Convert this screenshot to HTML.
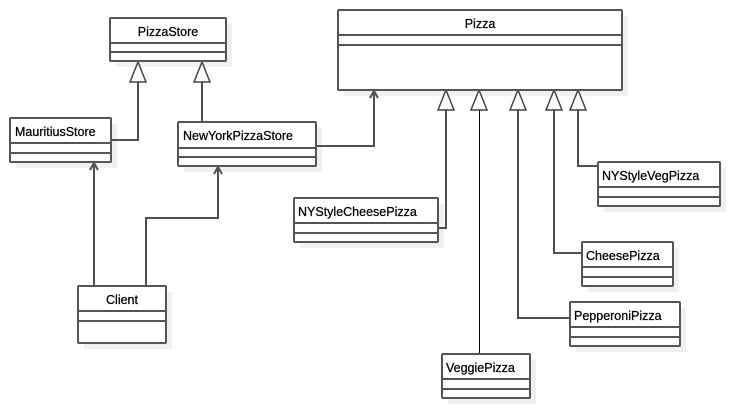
<!DOCTYPE html>
<html><head><meta charset="utf-8"><style>
html,body{margin:0;padding:0;background:#fff;}
svg{display:block;}
text{font-family:"Liberation Sans",sans-serif;font-size:12.5px;fill:#000;stroke:#000;stroke-width:0.25;}
</style></head><body>
<svg width="730" height="408" viewBox="0 0 730 408" xmlns="http://www.w3.org/2000/svg">
<g fill="#f0f0f0">
<rect x="116" y="24" width="116" height="43"/>
<rect x="16" y="124" width="101" height="44"/>
<rect x="184" y="128" width="138" height="44"/>
<rect x="344" y="16" width="284" height="80"/>
<rect x="300" y="204" width="144" height="44"/>
<rect x="604" y="168" width="122" height="44"/>
<rect x="588" y="248" width="91" height="44"/>
<rect x="576" y="308" width="110" height="44"/>
<rect x="448" y="360" width="88" height="44"/>
<rect x="84" y="292" width="88" height="57"/>
</g>
<g fill="none" stroke="#505050" stroke-width="2">
<polyline points="111,140 138,140 138,82"/>
<line x1="202" y1="122" x2="202" y2="82"/>
<polyline points="316,146 374,146 374,91"/>
<polyline points="370,98 374,91 378,98"/>
<line x1="94" y1="286" x2="94" y2="163"/>
<polyline points="90,170 94,163 98,170"/>
<polyline points="146,286 146,218 218,218 218,167"/>
<polyline points="214,174 218,167 222,174"/>
<polyline points="438,228 446,228 446,110"/>
<polyline points="598,166 578,166 578,110"/>
<polyline points="582,253 554,253 554,110"/>
<polyline points="570,318 518,318 518,110"/>
</g>
<line x1="479.5" y1="110" x2="479.5" y2="354" stroke="#000" stroke-width="1" shape-rendering="crispEdges"/>
<g fill="#fff" stroke="#444" stroke-width="1.5">
<polygon points="138,62 130,82 146,82"/>
<polygon points="202,62 194,82 210,82"/>
<polygon points="446,90 438,110 454,110"/>
<polygon points="479,90 471,110 487,110"/>
<polygon points="518,90 510,110 526,110"/>
<polygon points="554,90 546,110 562,110"/>
<polygon points="578,90 570,110 586,110"/>
</g>
<g fill="#fff" stroke="#555" stroke-width="2">
<rect x="110" y="18" width="116" height="43" rx="1"/>
<rect x="10" y="118" width="101" height="44" rx="1"/>
<rect x="178" y="122" width="138" height="44" rx="1"/>
<rect x="338" y="10" width="284" height="80" rx="1"/>
<rect x="294" y="198" width="144" height="44" rx="1"/>
<rect x="598" y="162" width="122" height="44" rx="1"/>
<rect x="582" y="242" width="91" height="44" rx="1"/>
<rect x="570" y="302" width="110" height="44" rx="1"/>
<rect x="442" y="354" width="88" height="44" rx="1"/>
<rect x="78" y="286" width="88" height="57" rx="1"/>
</g>
<g stroke="#555" stroke-width="2">
<line x1="110" y1="43" x2="226" y2="43"/><line x1="110" y1="52" x2="226" y2="52"/>
<line x1="10" y1="143" x2="111" y2="143"/><line x1="10" y1="153" x2="111" y2="153"/>
<line x1="178" y1="148" x2="316" y2="148"/><line x1="178" y1="157" x2="316" y2="157"/>
<line x1="338" y1="35" x2="622" y2="35"/><line x1="338" y1="45" x2="622" y2="45"/>
<line x1="294" y1="223" x2="438" y2="223"/><line x1="294" y1="233" x2="438" y2="233"/>
<line x1="598" y1="187" x2="720" y2="187"/><line x1="598" y1="197" x2="720" y2="197"/>
<line x1="582" y1="267" x2="673" y2="267"/><line x1="582" y1="277" x2="673" y2="277"/>
<line x1="570" y1="327" x2="680" y2="327"/><line x1="570" y1="337" x2="680" y2="337"/>
<line x1="442" y1="379" x2="530" y2="379"/><line x1="442" y1="389" x2="530" y2="389"/>
<line x1="78" y1="311" x2="166" y2="311"/><line x1="78" y1="321" x2="166" y2="321"/>
</g>
<text x="168" y="36" text-anchor="middle">PizzaStore</text>
<text x="15" y="136">MauritiusStore</text>
<text x="183" y="140">NewYorkPizzaStore</text>
<text x="480" y="28" text-anchor="middle">Pizza</text>
<text x="298" y="216">NYStyleCheesePizza</text>
<text x="602" y="180">NYStyleVegPizza</text>
<text x="586" y="260">CheesePizza</text>
<text x="574" y="320">PepperoniPizza</text>
<text x="446" y="372">VeggiePizza</text>
<text x="122" y="304" text-anchor="middle">Client</text>
</svg>
</body></html>
